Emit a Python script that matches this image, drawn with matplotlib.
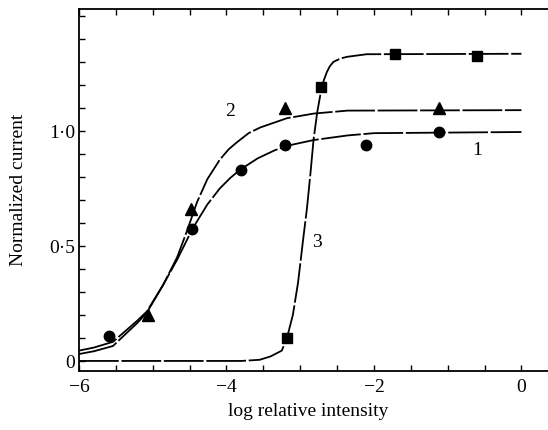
"""Normalized current vs log relative intensity, curves 1-3 with data points."""
import matplotlib
matplotlib.use("Agg")
import matplotlib.pyplot as plt
from matplotlib.ticker import FixedLocator, MultipleLocator, FixedFormatter

plt.rcParams["font.family"] = ["Liberation Serif", "DejaVu Serif"]

# fitted curves
curve1_x = [-6.0, -5.8, -5.54, -5.21, -5.08, -4.86, -4.67, -4.53, -4.47, -4.26,
            -4.09, -3.95, -3.82, -3.58, -3.35, -3.18, -2.82, -2.36, -2.0, 0.0]
curve1_y = [0.045, 0.058, 0.083, 0.175, 0.215, 0.33, 0.44, 0.53, 0.57, 0.68,
            0.75, 0.795, 0.83, 0.88, 0.915, 0.935, 0.96, 0.98, 0.99, 0.995]

curve2_x = [-6.0, -5.8, -5.54, -5.21, -5.08, -4.86, -4.67, -4.53, -4.40, -4.26,
            -4.09, -3.97, -3.86, -3.70, -3.54, -3.18, -2.82, -2.36, 0.0]
curve2_y = [0.03, 0.042, 0.065, 0.165, 0.21, 0.33, 0.45, 0.57, 0.69, 0.79,
            0.875, 0.92, 0.95, 0.99, 1.015, 1.055, 1.075, 1.088, 1.09]

curve3_x = [-6.0, -3.8, -3.55, -3.4, -3.25, -3.18, -3.10, -3.03, -2.96, -2.91,
            -2.86, -2.82, -2.77, -2.72, -2.68, -2.64, -2.60, -2.55, -2.45,
            -2.36, -2.1, 0.0]
curve3_y = [0.0, 0.0, 0.005, 0.02, 0.045, 0.10, 0.20, 0.34, 0.53, 0.66,
            0.82, 0.96, 1.08, 1.17, 1.22, 1.255, 1.28, 1.30, 1.315,
            1.322, 1.333, 1.335]

# measured points
circle_x = [-5.59, -4.47, -3.80, -3.20, -2.11, -1.12]
circle_y = [0.11, 0.575, 0.83, 0.94, 0.94, 0.995]
triangle_x = [-5.06, -4.48, -3.20, -1.12]
triangle_y = [0.20, 0.66, 1.10, 1.10]
square_x = [-3.18, -2.72, -1.71, -0.60]
square_y = [0.10, 1.19, 1.335, 1.325]

# curve labels
label_text = ["1", "2", "3"]
label_x = [-0.60, -3.95, -2.78]
label_y = [0.92, 1.09, 0.52]

fig = plt.figure(figsize=(5.48, 4.31), dpi=100)
ax = fig.add_axes([0.1442, 0.137, 0.8558, 0.840])

dash = (0, (22, 1.5))
for cx, cy in [(curve1_x, curve1_y), (curve2_x, curve2_y), (curve3_x, curve3_y)]:
    ax.plot(cx, cy, color="black", lw=1.3, ls=dash, solid_joinstyle="round")

ax.plot(circle_x, circle_y, "o", color="black", ms=7.5)
ax.plot(triangle_x, triangle_y, "^", color="black", ms=8.5)
ax.plot(square_x, square_y, "s", color="black", ms=7.5)

for t, x, y in zip(label_text, label_x, label_y):
    ax.text(x, y, t, fontsize=14, ha="center", va="center")

ax.set_xlim(-6.0, 0.36)
ax.set_ylim(-0.0435, 1.53)

ax.spines["right"].set_visible(False)
ax.xaxis.set_major_locator(FixedLocator([-6, -4, -2, 0]))
ax.xaxis.set_major_formatter(FixedFormatter(["\u22126", "\u22124", "\u22122", "0"]))
ax.xaxis.set_minor_locator(FixedLocator([-5.5, -5, -4.5, -3.5, -3, -2.5, -1.5, -1, -0.5]))
ax.yaxis.set_major_locator(FixedLocator([0, 0.5, 1.0]))
ax.yaxis.set_major_formatter(FixedFormatter(["0", "0\u00b75", "1\u00b70"]))
ax.yaxis.set_minor_locator(MultipleLocator(0.1))
ax.tick_params(which="both", direction="in", length=4, width=1.0,
               top=True, right=False, labelsize=14)
ax.tick_params(axis="x", pad=5)
ax.tick_params(axis="y", pad=3)
for s in ax.spines.values():
    s.set_linewidth(1.3)

ax.set_xlabel("log relative intensity", fontsize=14)
ax.set_ylabel("Normalized current", fontsize=14)
ax.xaxis.set_label_coords(0.488, -0.085)
ax.yaxis.set_label_coords(-0.11, 0.503)

fig.savefig("out.png", dpi=100)
